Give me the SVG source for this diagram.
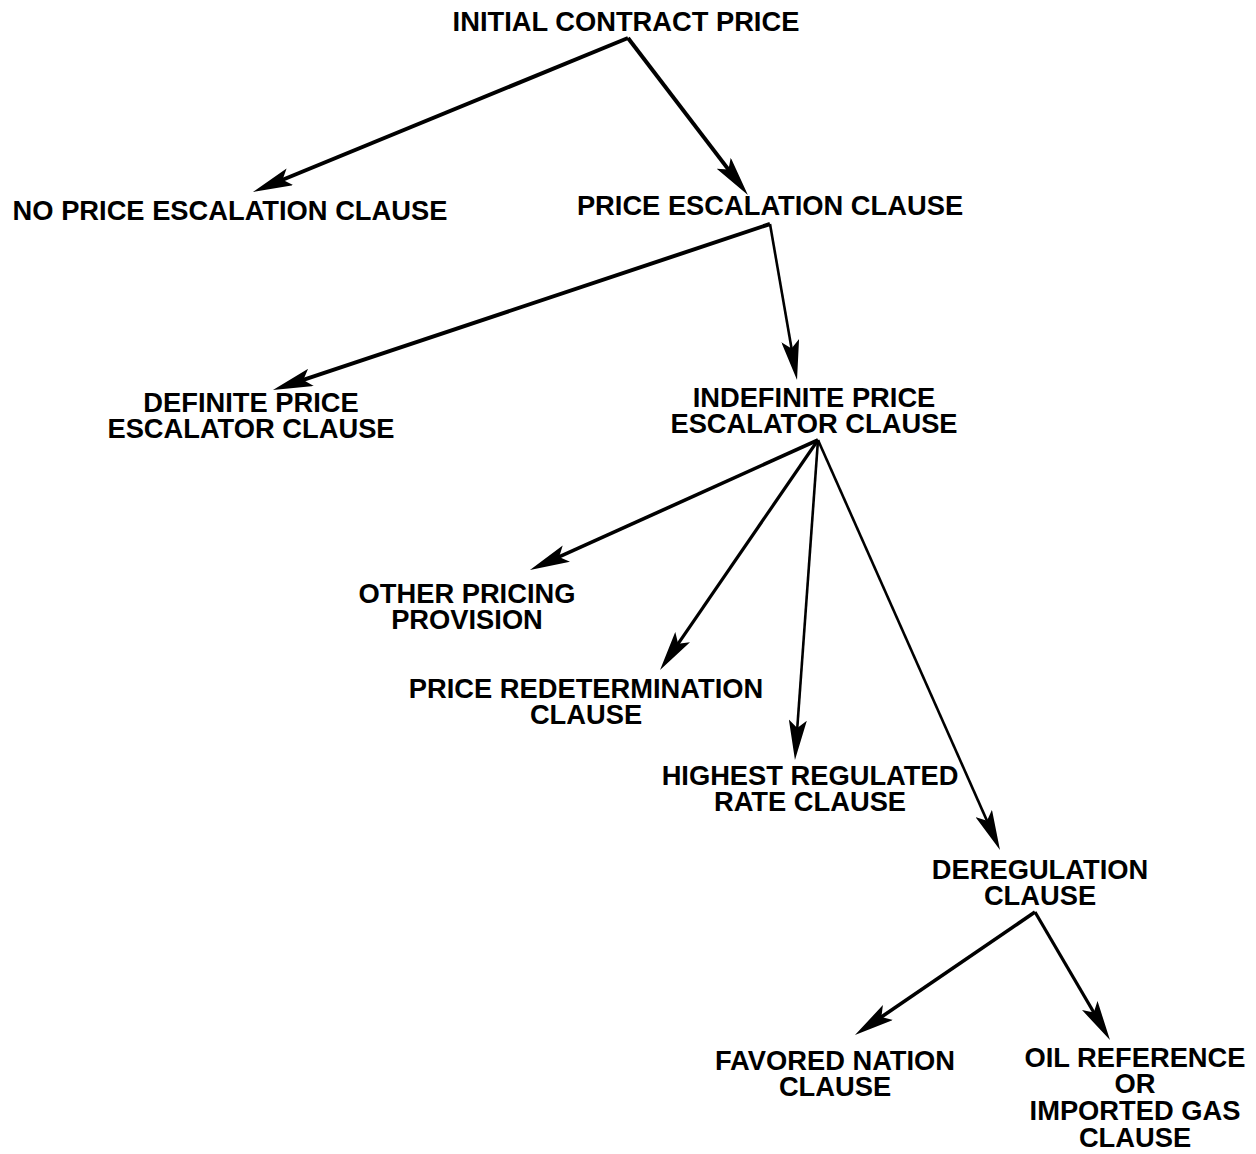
<svg xmlns="http://www.w3.org/2000/svg" width="1256" height="1154" viewBox="0 0 1256 1154">
<style>
text{font-family:"Liberation Sans",Arial,sans-serif;font-weight:bold;font-size:27.3px;fill:#000;text-anchor:middle}
.c line{stroke:#000;stroke-linecap:butt;marker-end:url(#ah)}
</style>
<defs>
<marker id="ah" viewBox="0 0 40 18" refX="27" refY="9" markerWidth="40" markerHeight="18" markerUnits="userSpaceOnUse" orient="auto">
<path d="M0,0 L40,9 L0,18 L8,9 Z" fill="#000"/>
</marker>
</defs>
<rect width="1256" height="1154" fill="#fff"/>
<g id="n-initial"><text x="626" y="31">INITIAL CONTRACT PRICE</text></g>
<g id="n-noprice"><text x="230" y="220">NO PRICE ESCALATION CLAUSE</text></g>
<g id="n-priceesc"><text x="770" y="215">PRICE ESCALATION CLAUSE</text></g>
<g id="n-definite"><text x="251" y="412">DEFINITE PRICE</text><text x="251" y="438">ESCALATOR CLAUSE</text></g>
<g id="n-indefinite"><text x="814" y="407">INDEFINITE PRICE</text><text x="814" y="433">ESCALATOR CLAUSE</text></g>
<g id="n-other"><text x="467" y="603">OTHER PRICING</text><text x="467" y="629">PROVISION</text></g>
<g id="n-redet"><text x="586" y="698">PRICE REDETERMINATION</text><text x="586" y="724">CLAUSE</text></g>
<g id="n-highest"><text x="810" y="785">HIGHEST REGULATED</text><text x="810" y="811">RATE CLAUSE</text></g>
<g id="n-dereg"><text x="1040" y="879">DEREGULATION</text><text x="1040" y="905">CLAUSE</text></g>
<g id="n-favored"><text x="835" y="1070">FAVORED NATION</text><text x="835" y="1096">CLAUSE</text></g>
<g id="n-oil"><text x="1135" y="1067">OIL REFERENCE</text><text x="1135" y="1093">OR</text><text x="1135" y="1120">IMPORTED GAS</text><text x="1135" y="1147">CLAUSE</text></g>
<g id="connectors" class="c">
<line x1="628" y1="38" x2="265" y2="187" stroke-width="4"/>
<line x1="628" y1="38" x2="740" y2="184.6" stroke-width="4"/>
<line x1="770" y1="224" x2="285.3" y2="385.9" stroke-width="4"/>
<line x1="770" y1="224" x2="794.8" y2="367.2" stroke-width="2.6"/>
<line x1="818" y1="440" x2="541.8" y2="564.7" stroke-width="3.6"/>
<line x1="818" y1="440" x2="667.4" y2="659.3" stroke-width="3.2"/>
<line x1="818" y1="440" x2="795.9" y2="747" stroke-width="2.6"/>
<line x1="818" y1="440" x2="994.7" y2="838.1" stroke-width="2.6"/>
<line x1="1035" y1="912" x2="865.7" y2="1027.7" stroke-width="3.6"/>
<line x1="1035" y1="912" x2="1103.4" y2="1028.8" stroke-width="3.2"/>
</g>
</svg>
